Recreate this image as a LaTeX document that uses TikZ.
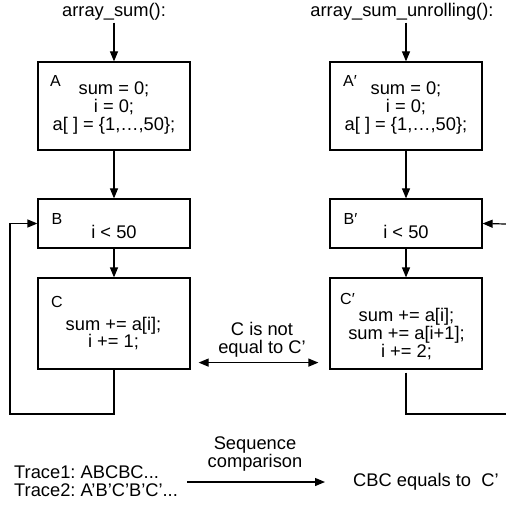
\documentclass[tikz,border=0pt]{standalone}
\usepackage{fontspec}
\setmainfont{Liberation Sans}
\usetikzlibrary{arrows.meta}
\frenchspacing
\begin{document}
\begin{tikzpicture}[x=1pt,y=-1pt,
  blk/.style={draw,line width=1.2pt,minimum width=152pt,inner sep=0pt},
  txt/.style={font=\fontsize{18.3}{17.8}\selectfont,align=center,inner sep=0pt},
  lbl/.style={font=\fontsize{16}{16}\selectfont,inner sep=0pt},
  ttl/.style={font=\fontsize{18.3}{18}\selectfont,inner sep=2pt},
  ln/.style={line width=1.2pt},
  arr/.style={ln,-{Triangle[length=10pt,width=8pt]}},
  darr/.style={ln,{Triangle[length=10pt,width=8pt]}-{Triangle[length=10pt,width=8pt]}}]
\useasboundingbox (0,0) rectangle (506,505);
% titles
\node[ttl] (t1) at (114,12) {array\_sum():};
\node[ttl] (t2) at (402,12) {array\_sum\_unrolling():};
% left column
\node[blk,minimum height=88pt] (A) at (114,106) {};
\node[blk,minimum height=49pt] (B) at (114,223.5) {};
\node[blk,minimum height=91pt] (C) at (114,323.5) {};
\node[lbl] (lA) at (55.5,80.5) {A};
\node[lbl] (lB) at (57,218.5) {B};
\node[lbl] (lC) at (57,302) {C};
\node[txt] (xA) at (114,108) {sum = 0;\\i = 0;\\a[ ] = \{1,…,50\};};
\node[txt] (xB) at (114,231.5) {i < 50};
\node[txt] (xC) at (113.5,333.5) {sum += a[i];\\i += 1;};
% right column
\node[blk,minimum height=88pt] (Ap) at (406,106) {};
\node[blk,minimum height=49pt] (Bp) at (406,223.5) {};
\node[blk,minimum height=91pt] (Cp) at (406,323.5) {};
\node[lbl] (lAp) at (350,80.5) {A′};
\node[lbl] (lBp) at (350.5,218.5) {B′};
\node[lbl] (lCp) at (347.5,299) {C′};
\node[txt] (xAp) at (406,108) {sum = 0;\\i = 0;\\a[ ] = \{1,…,50\};};
\node[txt] (xBp) at (406,231.5) {i < 50};
\node[txt] (xCp) at (406.5,334) {sum += a[i];\\sum += a[i+1];\\i += 2;};
% connectors
\draw[arr] (t1.south) -- (A.north);
\draw[arr] (t2.south -| Ap.north) -- (Ap.north);
\draw[arr] (A) -- (B);
\draw[arr] (B) -- (C);
\draw[arr] (Ap) -- (Bp);
\draw[arr] (Bp) -- (Cp);
\coordinate (loopL) at (10,414);
\draw[arr] (C.south) |- (loopL) |- (B.west);
\coordinate (loopR) at (506,414);
\draw[ln] ([yshift=-3pt]Cp.south) |- (loopR);
\coordinate (inR) at (506,224);
\draw[arr] (inR) -- (Bp.east);
\draw[darr] ([xshift=8pt,yshift=7pt]C.south east) -- ([xshift=-11pt,yshift=7pt]Cp.south west);
\node[txt] (neq) at (262,339.5) {C is not\\equal to C’};
% bottom
\node[txt,align=left,anchor=west] (tr) at (14,481) {Trace1: ABCBC...\\Trace2: A’B’C’B’C’...};
\node[txt,anchor=west] (res) at (353,482) {CBC equals to\ \ C’};
\node[txt] (seq) at (255,454) {Sequence\\comparison};
\draw[arr] (187,482) -- ([xshift=-28pt]res.west);
\end{tikzpicture}
\end{document}
